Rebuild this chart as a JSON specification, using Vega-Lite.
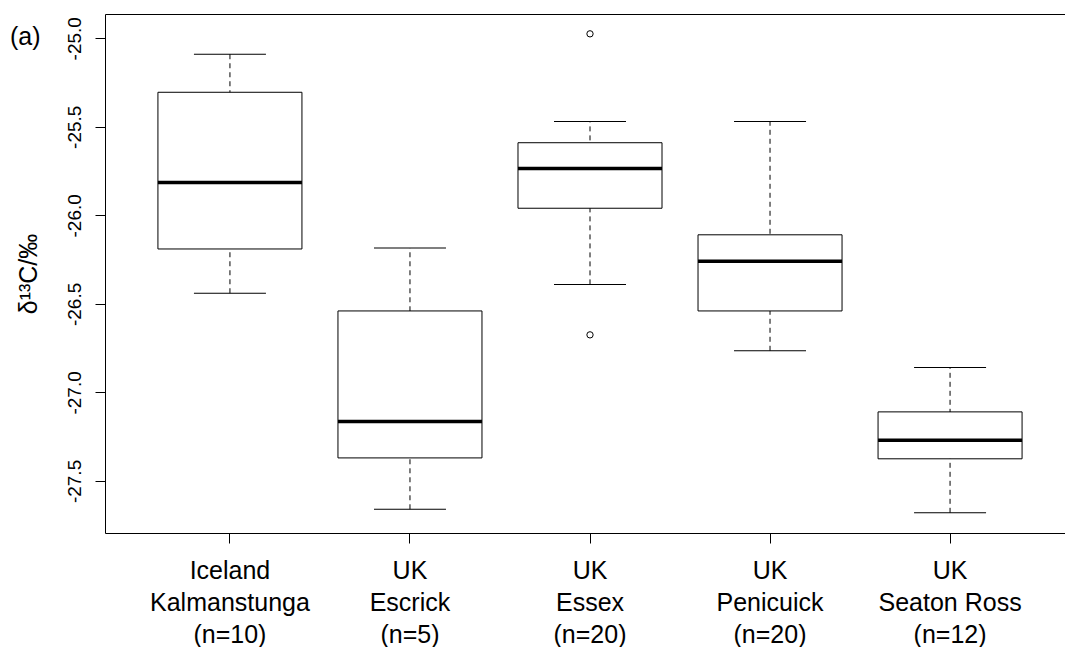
{
  "$schema": "https://vega.github.io/schema/vega-lite/v6.json",
  "autosize": "none",
  "padding": {"left": 105, "top": 14, "right": 0, "bottom": 114},
  "width": 970,
  "height": 519,
  "background": "white",
  "title": {
    "text": "(a)",
    "anchor": "start",
    "frame": "group",
    "font": "Liberation Sans",
    "fontSize": 25,
    "fontWeight": "normal",
    "color": "black",
    "baseline": "alphabetic",
    "dx": -95,
    "dy": 60
  },
  "config": {
    "font": "Liberation Sans",
    "view": {"stroke": "black", "strokeWidth": 1},
    "axis": {"grid": false, "domain": false, "tickColor": "black", "labelColor": "black", "titleColor": "black"}
  },
  "datasets": {
    "boxes": [
      {"site": "Iceland|Kalmanstunga|(n=10)", "lo": -26.44, "q1": -26.19, "med": -25.815, "q3": -25.305, "hi": -25.09},
      {"site": "UK|Escrick|(n=5)", "lo": -27.66, "q1": -27.37, "med": -27.165, "q3": -26.54, "hi": -26.185},
      {"site": "UK|Essex|(n=20)", "lo": -26.39, "q1": -25.96, "med": -25.735, "q3": -25.59, "hi": -25.47},
      {"site": "UK|Penicuick|(n=20)", "lo": -26.765, "q1": -26.54, "med": -26.26, "q3": -26.11, "hi": -25.47},
      {"site": "UK|Seaton Ross|(n=12)", "lo": -27.68, "q1": -27.375, "med": -27.27, "q3": -27.11, "hi": -26.86}
    ],
    "outliers": [
      {"site": "UK|Essex|(n=20)", "value": -24.975},
      {"site": "UK|Essex|(n=20)", "value": -26.675}
    ]
  },
  "encoding": {
    "x": {
      "field": "site",
      "type": "nominal",
      "sort": null,
      "scale": {"type": "band", "paddingInner": 0.2, "paddingOuter": 0.294},
      "axis": {
        "title": null,
        "labelAngle": 0,
        "labelExpr": "split(datum.label, '|')",
        "labelFontSize": 25,
        "labelLineHeight": 32,
        "labelBaseline": "top",
        "labelPadding": 15,
        "tickSize": 10,
        "labelLimit": 400
      }
    }
  },
  "layer": [
    {
      "data": {"name": "boxes"},
      "mark": {"type": "rule", "color": "black", "strokeWidth": 1, "strokeDash": [5, 4]},
      "encoding": {
        "y": {
          "field": "lo",
          "type": "quantitative",
          "scale": {"domain": [-27.794, -24.863], "nice": false, "zero": false},
          "axis": {
            "title": "δ¹³C/‰",
            "titleFontSize": 25,
            "titleFontWeight": "normal",
            "titlePadding": 24,
            "values": [-25, -25.5, -26, -26.5, -27, -27.5],
            "format": ".1f",
            "labelExpr": "replace(datum.label, '−', '-')",
            "labelAngle": -90,
            "labelFontSize": 19,
            "labelPadding": 11,
            "tickSize": 10
          }
        },
        "y2": {"field": "hi"}
      }
    },
    {
      "data": {"name": "boxes"},
      "mark": {"type": "tick", "color": "black", "opacity": 1, "size": 72, "thickness": 1},
      "encoding": {"y": {"field": "lo", "type": "quantitative"}}
    },
    {
      "data": {"name": "boxes"},
      "mark": {"type": "tick", "color": "black", "opacity": 1, "size": 72, "thickness": 1},
      "encoding": {"y": {"field": "hi", "type": "quantitative"}}
    },
    {
      "data": {"name": "boxes"},
      "mark": {"type": "bar", "fill": "white", "stroke": "black", "strokeWidth": 1, "opacity": 1},
      "encoding": {
        "y": {"field": "q1", "type": "quantitative"},
        "y2": {"field": "q3"}
      }
    },
    {
      "data": {"name": "boxes"},
      "mark": {"type": "tick", "color": "black", "opacity": 1, "size": 144, "thickness": 3.5},
      "encoding": {"y": {"field": "med", "type": "quantitative"}}
    },
    {
      "data": {"name": "outliers"},
      "mark": {"type": "point", "shape": "circle", "filled": false, "color": "black", "strokeWidth": 1, "size": 40, "opacity": 1},
      "encoding": {"y": {"field": "value", "type": "quantitative"}}
    }
  ]
}
